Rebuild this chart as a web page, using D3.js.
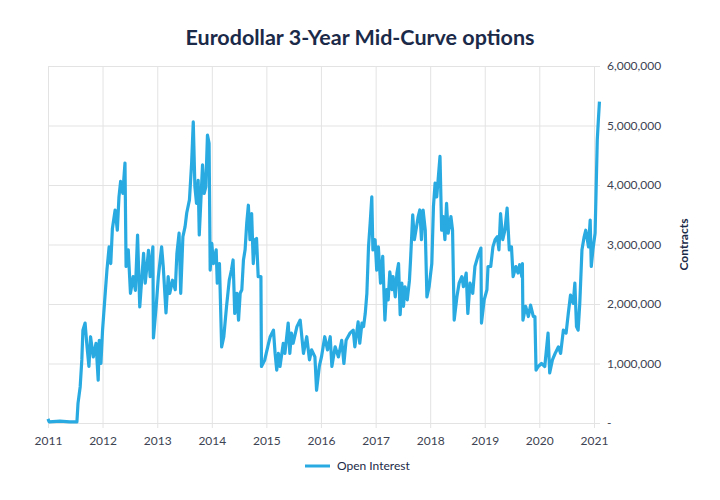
<!DOCTYPE html>
<html>
<head>
<meta charset="utf-8">
<script src="https://cdn.jsdelivr.net/npm/d3@7"></script>
<style>
  body { margin: 0; background: #fff; }
  text { font-family: Lato, "Noto Sans", sans-serif; }
</style>
</head>
<body>
<div id="chart"></div>
<script>
// Time as decimal years, open interest in millions of contracts
var years = [
  2011.00, 2011.02, 2011.22, 2011.40, 2011.53, 2011.55, 2011.59, 2011.62, 2011.64, 2011.68,
  2011.71, 2011.75, 2011.78, 2011.83, 2011.88, 2011.92, 2011.94, 2011.97, 2012.00, 2012.04,
  2012.08, 2012.12, 2012.15, 2012.18, 2012.23, 2012.27, 2012.30, 2012.33, 2012.37, 2012.41,
  2012.43, 2012.47, 2012.51, 2012.56, 2012.60, 2012.64, 2012.68, 2012.75, 2012.78, 2012.84,
  2012.87, 2012.92, 2012.93, 2012.98, 2013.02, 2013.08, 2013.11, 2013.16, 2013.20, 2013.23,
  2013.28, 2013.33, 2013.36, 2013.40, 2013.43, 2013.47, 2013.51, 2013.54, 2013.59, 2013.63,
  2013.66, 2013.69, 2013.72, 2013.75, 2013.77, 2013.80, 2013.83, 2013.86, 2013.89, 2013.92,
  2013.95, 2013.97, 2014.00, 2014.03, 2014.08, 2014.10, 2014.14, 2014.18, 2014.22, 2014.27,
  2014.32, 2014.36, 2014.39, 2014.42, 2014.46, 2014.49, 2014.52, 2014.55, 2014.58, 2014.61,
  2014.64, 2014.67, 2014.70, 2014.73, 2014.76, 2014.79, 2014.82, 2014.85, 2014.90, 2014.91,
  2014.97, 2015.04, 2015.07, 2015.13, 2015.16, 2015.19, 2015.22, 2015.25, 2015.31, 2015.34,
  2015.40, 2015.43, 2015.46, 2015.49, 2015.56, 2015.62, 2015.68, 2015.74, 2015.79, 2015.83,
  2015.89, 2015.92, 2015.97, 2016.01, 2016.07, 2016.12, 2016.17, 2016.20, 2016.26, 2016.32,
  2016.38, 2016.42, 2016.46, 2016.53, 2016.59, 2016.62, 2016.68, 2016.71, 2016.75, 2016.78,
  2016.81, 2016.84, 2016.87, 2016.90, 2016.93, 2016.95, 2016.99, 2017.02, 2017.05, 2017.09,
  2017.13, 2017.17, 2017.20, 2017.23, 2017.26, 2017.30, 2017.32, 2017.36, 2017.39, 2017.42,
  2017.45, 2017.48, 2017.51, 2017.54, 2017.58, 2017.62, 2017.64, 2017.68, 2017.71, 2017.75,
  2017.78, 2017.81, 2017.84, 2017.87, 2017.91, 2017.94, 2017.98, 2018.03, 2018.06, 2018.09,
  2018.12, 2018.15, 2018.18, 2018.21, 2018.24, 2018.27, 2018.30, 2018.33, 2018.38, 2018.41,
  2018.44, 2018.49, 2018.53, 2018.58, 2018.61, 2018.66, 2018.69, 2018.73, 2018.78, 2018.82,
  2018.88, 2018.93, 2018.94, 2018.99, 2019.04, 2019.06, 2019.11, 2019.15, 2019.19, 2019.23,
  2019.26, 2019.29, 2019.33, 2019.37, 2019.41, 2019.45, 2019.49, 2019.52, 2019.57, 2019.61,
  2019.64, 2019.68, 2019.69, 2019.70, 2019.75, 2019.80, 2019.84, 2019.89, 2019.92, 2019.94,
  2019.98, 2020.04, 2020.10, 2020.16, 2020.19, 2020.24, 2020.29, 2020.35, 2020.39, 2020.44,
  2020.49, 2020.53, 2020.57, 2020.62, 2020.65, 2020.68, 2020.71, 2020.74, 2020.78, 2020.82,
  2020.85, 2020.90, 2020.93, 2020.95, 2020.98, 2021.02, 2021.04, 2021.06, 2021.08, 2021.10
];

var openInterest = [
  0.07, 0.02, 0.03, 0.02, 0.02, 0.33, 0.61, 1.06, 1.56, 1.68,
  1.34, 0.95, 1.45, 1.11, 1.34, 0.72, 1.39, 1.00, 1.56, 2.07,
  2.57, 2.96, 2.68, 3.27, 3.58, 3.24, 3.80, 4.06, 3.86, 4.37,
  2.63, 2.91, 2.18, 2.46, 2.23, 3.16, 1.95, 2.85, 2.35, 2.90,
  2.46, 2.96, 1.43, 1.96, 2.46, 2.96, 2.63, 1.85, 2.46, 2.18,
  2.40, 2.24, 2.85, 3.19, 2.18, 3.13, 3.30, 3.53, 3.75, 4.37,
  5.06, 3.97, 3.69, 4.08, 3.16, 3.75, 4.34, 3.86, 3.97, 4.84,
  4.70, 2.57, 3.02, 2.68, 2.91, 2.35, 2.68, 1.28, 1.45, 1.96,
  2.40, 2.57, 2.74, 1.84, 2.18, 1.73, 2.18, 2.24, 2.74, 2.91,
  3.36, 3.66, 3.08, 3.52, 2.68, 3.08, 3.10, 2.46, 2.46, 0.95,
  1.06, 1.34, 1.45, 1.56, 1.17, 0.89, 1.17, 0.95, 1.34, 1.17,
  1.68, 1.17, 1.51, 1.34, 1.62, 1.73, 1.17, 1.45, 1.06, 1.23,
  1.11, 0.55, 0.95, 1.11, 1.45, 1.23, 1.45, 0.95, 1.28, 1.11,
  1.39, 1.00, 1.39, 1.51, 1.56, 1.28, 1.70, 1.34, 1.68, 1.62,
  1.84, 2.18, 2.96, 3.36, 3.80, 2.91, 3.08, 2.57, 2.96, 2.35,
  2.80, 1.73, 2.24, 2.07, 2.54, 2.24, 2.46, 2.12, 2.52, 2.68,
  1.82, 2.35, 1.96, 2.29, 2.07, 2.40, 2.74, 3.50, 3.08, 3.30,
  3.47, 3.58, 3.08, 3.58, 3.24, 2.12, 2.29, 2.68, 3.64, 4.03,
  3.80, 4.14, 4.48, 3.24, 3.47, 3.08, 3.69, 3.19, 3.47, 3.24,
  1.73, 2.12, 2.35, 2.46, 2.29, 2.52, 1.84, 2.35, 2.18, 2.63,
  2.82, 2.94, 1.68, 2.07, 2.24, 2.63, 2.63, 2.96, 3.08, 3.13,
  2.91, 3.52, 3.08, 3.24, 3.61, 2.91, 2.96, 2.46, 2.63, 2.52,
  2.66, 2.46, 2.68, 1.73, 1.96, 1.79, 1.98, 1.79, 1.79, 0.89,
  0.95, 1.00, 0.95, 1.51, 0.84, 1.06, 1.17, 1.28, 1.17, 1.56,
  1.51, 1.84, 2.15, 2.01, 2.35, 1.62, 1.56, 2.01, 2.91, 3.13,
  3.24, 2.96, 3.41, 2.63, 2.91, 3.19, 3.97, 4.76, 5.09, 5.40
];

var yTicks = [0, 1000000, 2000000, 3000000, 4000000, 5000000, 6000000];
var seriesName = 'Open Interest';

function yearToDate(y) {
  var yr = Math.floor(y);
  var start = new Date(yr, 0, 1), end = new Date(yr + 1, 0, 1);
  return new Date(+start + (y - yr) * (end - start));
}

var data = years.map(function(y, i) {
  return { date: yearToDate(y), value: openInterest[i] * 1e6 };
});

var svg = d3.select('#chart')
  .append('svg')
  .attr('width', 720)
  .attr('height', 500);

// plot area edges
var plotLeft = 48, plotRight = 594, plotTop = 66, plotBottom = 423;

var x = d3.scaleTime()
  .domain([new Date(2011, 0, 1), new Date(2021, 0, 1)])
  .range([plotLeft, plotRight]);

var y = d3.scaleLinear()
  .domain([0, 6000000])
  .range([plotBottom, plotTop]);

// vertical year gridlines + labels
var xAxis = svg.append('g')
  .attr('transform', 'translate(0,' + (plotBottom + 5) + ')')
  .call(d3.axisBottom(x)
    .ticks(d3.timeYear.every(1))
    .tickFormat(d3.timeFormat('%Y'))
    .tickSize(-(plotBottom - plotTop + 5))
    .tickPadding(8));
xAxis.select('.domain').remove();
xAxis.selectAll('line').attr('stroke', '#e3e3e3');
xAxis.selectAll('text')
  .attr('fill', '#3d4352')
  .style('font-size', '12px');

// horizontal gridlines + right labels
var yAxis = svg.append('g')
  .attr('transform', 'translate(' + (plotRight + 6) + ',0)')
  .call(d3.axisRight(y)
    .tickValues(yTicks)
    .tickFormat(function(d) { return d === 0 ? '-' : d3.format(',')(d); })
    .tickSize(-(plotRight + 6 - plotLeft))
    .tickPadding(7));
yAxis.select('.domain').remove();
yAxis.selectAll('line').attr('stroke', '#e3e3e3');
yAxis.selectAll('text')
  .attr('fill', '#3d4352')
  .style('font-size', '12px');

// the series
var line = d3.line()
  .x(function(d) { return x(d.date); })
  .y(function(d) { return y(d.value); });

svg.append('path')
  .datum(data)
  .attr('fill', 'none')
  .attr('stroke', '#29abe2')
  .attr('stroke-width', 3.2)
  .attr('stroke-linejoin', 'round')
  .attr('d', line);

// title
svg.append('text')
  .attr('x', 360)
  .attr('y', 45)
  .attr('text-anchor', 'middle')
  .attr('fill', '#1b2a48')
  .style('font-size', '21.5px')
  .style('font-weight', 'bold')
  .text('Eurodollar 3-Year Mid-Curve options');

// y axis title
svg.append('text')
  .attr('transform', 'translate(688,' + ((plotTop + plotBottom) / 2) + ') rotate(-90)')
  .attr('text-anchor', 'middle')
  .attr('fill', '#1b2a48')
  .style('font-size', '12px')
  .style('font-weight', 'bold')
  .text('Contracts');

// legend
svg.append('line')
  .attr('x1', 305).attr('x2', 330)
  .attr('y1', 466).attr('y2', 466)
  .attr('stroke', '#29abe2')
  .attr('stroke-width', 3);
svg.append('text')
  .attr('x', 337)
  .attr('y', 470)
  .attr('fill', '#1b2a48')
  .style('font-size', '12px')
  .text(seriesName);
</script>
</body>
</html>
